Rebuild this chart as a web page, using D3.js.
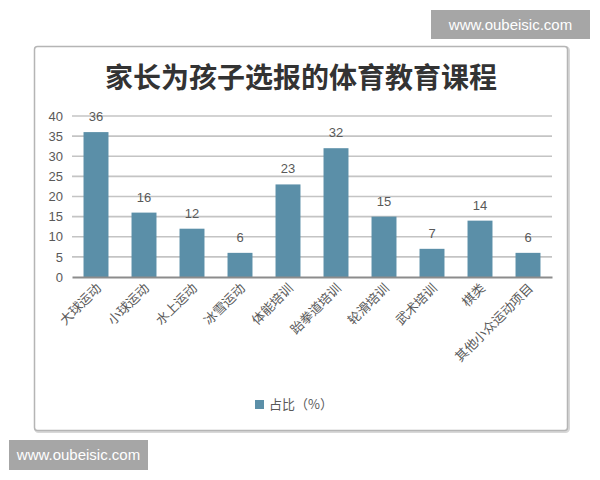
<!DOCTYPE html>
<html>
<head>
<meta charset="utf-8">
<script src="https://cdn.jsdelivr.net/npm/d3@7"></script>
<style>
  body { margin: 0; background: #fff; }
  text { font-family: "Noto Sans CJK SC", "Noto Sans", sans-serif; }
</style>
</head>
<body>
<div id="chart"></div>
<script>
// data
var categories = ["大球运动", "小球运动", "水上运动", "冰雪运动", "体能培训",
  "跆拳道培训", "轮滑培训", "武术培训", "棋类", "其他小众运动项目"];
var values = [36, 16, 12, 6, 23, 32, 15, 7, 14, 6];
var yTicks = [0, 5, 10, 15, 20, 25, 30, 35, 40];
var seriesName = "占比（%）";
var titleText = "家长为孩子选报的体育教育课程";
var watermark = "www.oubeisic.com";

var svgWidth = 600;
var svgHeight = 480;

var margin = { top: 116, right: 48, bottom: 203, left: 72 };
var width = svgWidth - margin.left - margin.right;
var height = svgHeight - margin.top - margin.bottom;

var svg = d3.select("#chart")
  .append("svg")
  .attr("width", svgWidth)
  .attr("height", svgHeight);

// chart frame
svg.append("rect")
  .attr("x", 35.5).attr("y", 47.5)
  .attr("width", 533).attr("height", 384)
  .attr("rx", 3)
  .attr("fill", "none")
  .attr("stroke", "#d8d8d8")
  .attr("stroke-width", 3);
svg.append("rect")
  .attr("x", 34.5).attr("y", 46.5)
  .attr("width", 533).attr("height", 384)
  .attr("rx", 3)
  .attr("fill", "#fff")
  .attr("stroke", "#b5b5b5")
  .attr("stroke-width", 1.5);

// title
svg.append("text")
  .attr("x", 301)
  .attr("y", 88)
  .attr("text-anchor", "middle")
  .attr("font-size", 28)
  .attr("font-weight", "bold")
  .attr("fill", "#333")
  .text(titleText);

var chartGroup = svg.append("g")
  .attr("transform", `translate(${margin.left}, ${margin.top})`);

var xScale = d3.scaleBand()
  .domain(categories)
  .range([0, width])
  .paddingInner(0.48)
  .paddingOuter(0.24);

var yScale = d3.scaleLinear()
  .domain([0, 40])
  .range([height, 0]);

// gridlines
chartGroup.append("g")
  .selectAll("line")
  .data(yTicks.filter(d => d > 0))
  .enter()
  .append("line")
  .attr("x1", 0)
  .attr("x2", width)
  .attr("y1", d => yScale(d))
  .attr("y2", d => yScale(d))
  .attr("stroke", "#c4c4c4")
  .attr("stroke-width", 1.6);

// y axis labels
var leftAxis = d3.axisLeft(yScale)
  .tickValues(yTicks)
  .tickSize(0)
  .tickPadding(9);
var yAxis = chartGroup.append("g").call(leftAxis);
yAxis.select(".domain").remove();
yAxis.selectAll("text")
  .attr("font-size", 13)
  .attr("fill", "#595959")
  .style("font-family", "'Liberation Sans', Arial, sans-serif");

// bars
chartGroup.selectAll("rect.bar")
  .data(values)
  .enter()
  .append("rect")
  .attr("class", "bar")
  .attr("x", (d, i) => xScale(categories[i]))
  .attr("y", d => yScale(d))
  .attr("width", xScale.bandwidth())
  .attr("height", d => height - yScale(d))
  .attr("fill", "#5b8fa8");

// value labels
chartGroup.selectAll("text.val")
  .data(values)
  .enter()
  .append("text")
  .attr("class", "val")
  .attr("x", (d, i) => xScale(categories[i]) + xScale.bandwidth() / 2)
  .attr("y", d => yScale(d) - 11)
  .attr("text-anchor", "middle")
  .attr("font-size", 13)
  .attr("fill", "#595959")
  .style("font-family", "'Liberation Sans', Arial, sans-serif")
  .text(d => d);

// x axis
var bottomAxis = d3.axisBottom(xScale).tickSize(0).tickPadding(0);
var xAxis = chartGroup.append("g")
  .attr("transform", `translate(0, ${height})`)
  .call(bottomAxis);
xAxis.select(".domain")
  .attr("stroke", "#8c8c8c")
  .attr("stroke-width", 2);
xAxis.selectAll("text")
  .attr("font-size", 13)
  .attr("fill", "#595959")
  .attr("text-anchor", "end")
  .attr("dy", 0)
  .attr("transform", "translate(6, 12) rotate(-45)");

// legend
var legend = svg.append("g")
  .attr("transform", "translate(255, 404)");
legend.append("rect")
  .attr("x", 0).attr("y", -4)
  .attr("width", 9).attr("height", 9)
  .attr("fill", "#5b8fa8");
legend.append("text")
  .attr("x", 14)
  .attr("y", 5)
  .attr("font-size", 13)
  .attr("fill", "#595959")
  .text(seriesName);

// watermarks
function addMark(x, y, w, h) {
  svg.append("rect")
    .attr("x", x).attr("y", y)
    .attr("width", w).attr("height", h)
    .attr("fill", "#a6a6a6");
  svg.append("text")
    .attr("x", x + w / 2)
    .attr("y", y + h / 2 + 5)
    .attr("text-anchor", "middle")
    .attr("font-size", 15)
    .attr("fill", "#fff")
    .style("font-family", "'Liberation Sans', Arial, sans-serif")
    .text(watermark);
}
addMark(431, 10, 159, 29);
addMark(9, 440, 139, 30);
</script>
</body>
</html>
